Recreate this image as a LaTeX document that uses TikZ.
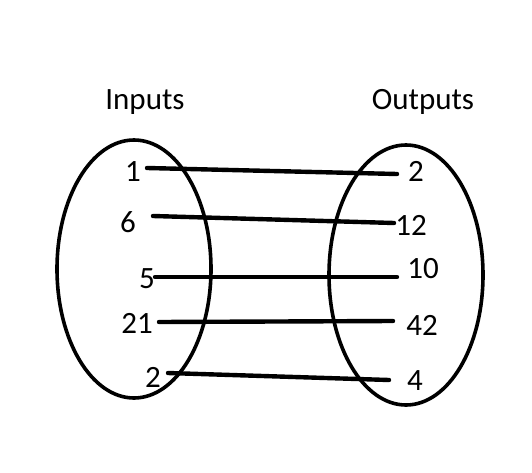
\documentclass[tikz,border=0pt]{standalone}
\usepackage{fontspec}
\setmainfont{Carlito}
\usetikzlibrary{shapes.geometric}

\begin{document}
\begin{tikzpicture}[
  x=1pt, y=-1pt,
  setbox/.style={ellipse, draw=black, line width=3.6pt,
    minimum width=154pt, inner sep=0pt},
  num/.style={anchor=base, inner sep=0pt, font=\fontsize{31}{36}\selectfont},
  hdr/.style={num},
  link/.style={draw=black, line width=4.4pt, line cap=round},
]
\useasboundingbox (0,0) rectangle (532,473);

%---------- the two sets ----------
\node[setbox, minimum height=258pt] (inset) at (134,269) {};
\node[setbox, minimum height=260pt] (outset) at (406,275) {};

\node[hdr] (inhdr) at (145,110) {Inputs};
\node[hdr] (outhdr) at (423,110) {Outputs};

%---------- inputs ----------
\node[num] (in1) at (133,182) {1};
\node[num] (in2) at (128,232) {6};
\node[num] (in3) at (147,288) {5};
\node[num] (in4) at (137,333) {21};
\node[num] (in5) at (153,387) {2};

%---------- outputs ----------
\node[num] (out1) at (416,182) {2};
\node[num] (out2) at (411,235) {12};
\node[num] (out3) at (423,278) {10};
\node[num] (out4) at (422,335) {42};
\node[num] (out5) at (415,390) {4};

%---------- line ends ----------
\coordinate (from1) at (147,168);
\coordinate (from2) at (153,216);
\coordinate (from3) at (155,277);
\coordinate (from4) at (159,322);
\coordinate (from5) at (168,373);
\coordinate (to1) at (397,174);
\coordinate (to2) at (394,223);
\coordinate (to3) at (397,277);
\coordinate (to4) at (393,321);
\coordinate (to5) at (389,380);

\foreach \k in {1,...,5}{
  \draw[link] (from\k) -- (to\k);
}

\end{tikzpicture}
\end{document}
